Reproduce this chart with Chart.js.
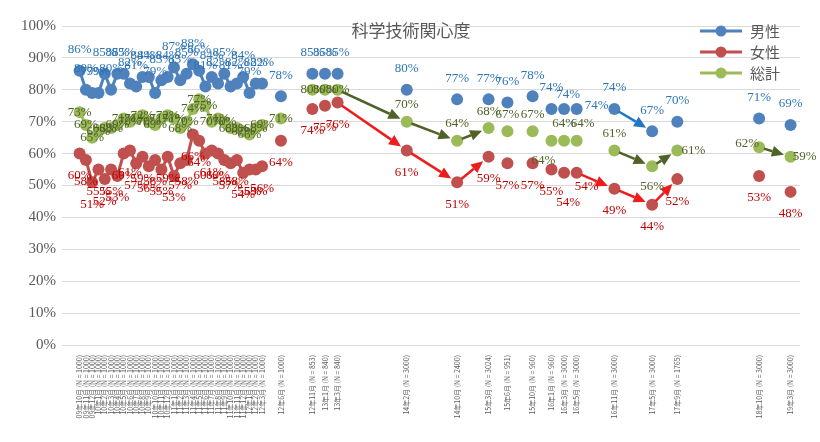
<!DOCTYPE html>
<html lang="ja">
<head>
<meta charset="utf-8">
<title>科学技術関心度</title>
<script src="https://cdn.jsdelivr.net/npm/chart.js@4.4.1/dist/chart.umd.min.js"></script>
<style>
  html, body { margin: 0; padding: 0; background: #fff; }
  #wrap { width: 820px; height: 442px; }
</style>
</head>
<body>
<div id="wrap"><canvas id="interestChart"></canvas></div>
<script>
const surveyLabels = [
    '09年10月', '09年11月', '09年12月',
    '10年1月', '10年2月', '10年3月', '10年4月', '10年5月', '10年6月',
    '10年7月', '10年8月', '10年9月', '10年10月', '10年11月', '10年12月',
    '11年1月', '11年2月', '11年3月', '11年4月', '11年5月', '11年6月',
    '11年7月', '11年8月', '11年9月', '11年10月', '11年11月', '11年12月',
    '12年1月', '12年2月', '12年3月',
    '12年6月', '12年11月', '13年1月', '13年3月', '14年2月', '14年10月',
    '15年3月', '15年6月', '15年10月', '16年1月', '16年3月', '16年5月',
    '16年11月', '17年5月', '17年9月', '18年10月', '19年3月'
];
const surveySizes = [
    1000, 1000, 1000,
    1000, 1000, 1000, 1000, 1000, 1000,
    1000, 1000, 1000, 1000, 1000, 1000,
    1000, 1000, 1000, 1000, 1000, 1000,
    1000, 1000, 1000, 1000, 1000, 1000,
    1000, 1000, 1000,
    1000, 853, 840, 840, 3000, 2400,
    3024, 951, 960, 960, 3000, 3000,
    3000, 3000, 1765, 3000, 3000
];

// Percentages per wave
const maleValues = [
    86, 80, 79, 79, 85, 80, 85, 85, 82, 81, 84, 84, 79, 83, 84,
    87, 83, 85, 88, 86, 81, 84, 82, 85, 81, 82, 84, 79, 82, 82,
    78, 85, 85, 85, 80, 77, 77, 76, 78, 74, 74, 74, 74, 67, 70, 71, 69
];
const femaleValues = [
    60, 58, 51, 55, 52, 55, 53, 60, 61, 57, 59, 56, 58, 55, 59,
    53, 57, 58, 66, 64, 60, 61, 60, 58, 57, 58, 54, 55, 55, 56,
    64, 74, 75, 76, 61, 51, 59, 57, 57, 55, 54, 54, 49, 44, 52, 53, 48
];
const totalValues = [
    73, 69, 65, 67, 68, 68, 69, 71, 70, 71, 72, 70, 69, 71, 72,
    71, 68, 70, 74, 77, 75, 70, 71, 70, 68, 68, 67, 66, 68, 69,
    71, 80, 80, 80, 70, 64, 68, 67, 67, 64, 64, 64, 61, 56, 61, 62, 59
];

const seriesNames = ['男性', '女性', '総計'];

// Trend arrows drawn between waves: [series index, from wave, to wave]
const trendArrows = [
    [2, '13年3月', '14年2月'], [2, '14年2月', '14年10月'], [2, '14年10月', '15年3月'],
    [2, '16年11月', '17年5月'], [2, '17年5月', '17年9月'], [2, '18年10月', '19年3月'],
    [1, '13年3月', '14年2月'], [1, '14年2月', '14年10月'], [1, '14年10月', '15年3月'],
    [1, '16年5月', '16年11月'], [1, '16年11月', '17年5月'], [1, '17年5月', '17年9月'],
    [0, '16年11月', '17年5月']
];

const markerColors = ['#4F81BD', '#C0504D', '#9BBB59'];
const labelColors = ['#2E75B6', '#C00000', '#4F6228'];
const arrowColors = ['#1F77C8', '#EE1C1C', '#4F6228'];
const labelOffsets = [-21, 22, -17];

// hand-moved labels, as in the original sheet: "series|wave" -> [dx, dy]
const labelShift = {
    '0|16年3月': [4, -14], '0|16年5月': [20, -3],
    '1|16年3月': [4, 30], '1|16年5月': [10, 14],
    '2|16年1月': [-8, 20], '2|16年5月': [6, -17], '2|17年5月': [0, 20],
    '2|17年9月': [16, 0], '2|18年10月': [-12, -4], '2|19年3月': [14, 0]
};

const SERIF = "'Liberation Serif', 'DejaVu Serif', serif";
const JP = "'Noto Sans CJK JP', sans-serif";

// months since Jan 2009, parsed from "YY年M月"
function waveToMonth(label) {
    const m = label.match(/(\d+)年(\d+)月/);
    return (parseInt(m[1]) - 9) * 12 + (parseInt(m[2]) - 1);
}

const waveMonths = surveyLabels.map(waveToMonth);
const tickText = {};
surveyLabels.forEach((lab, i) => {
    tickText[waveMonths[i]] = `${lab} (N = ${surveySizes[i]})`;
});
const firstArrowWave = surveyLabels.indexOf('14年2月');

function toPoints(values) {
    return values.map((v, i) => ({ x: waveMonths[i], y: v }));
}

// where a value label goes relative to its marker
function labelPosition(series, j) {
    const shift = labelShift[series + '|' + surveyLabels[j]];
    if (shift) return shift;
    // early 総計 labels sit centred on the marker
    if (series === 2 && j < firstArrowWave) return [0, 0];
    return [0, labelOffsets[series]];
}

function drawArrow(ctx, x0, y0, x1, y1, color) {
    const dx = x1 - x0, dy = y1 - y0;
    const len = Math.sqrt(dx * dx + dy * dy);
    const ux = dx / len, uy = dy / len;
    const sx = x0 + ux * 5, sy = y0 + uy * 5;
    const tx = x1 - ux * 7, ty = y1 - uy * 7;
    const head = 12, half = 5.5;
    const bx = tx - ux * head, by = ty - uy * head;

    ctx.save();
    ctx.strokeStyle = color;
    ctx.fillStyle = color;
    ctx.lineWidth = 2.5;
    ctx.beginPath();
    ctx.moveTo(sx, sy);
    ctx.lineTo(bx, by);
    ctx.stroke();
    ctx.beginPath();
    ctx.moveTo(tx, ty);
    ctx.lineTo(bx - uy * half, by + ux * half);
    ctx.lineTo(bx + uy * half, by - ux * half);
    ctx.closePath();
    ctx.fill();
    ctx.restore();
}

const overlayPlugin = {
    id: 'overlay',
    afterDatasetsDraw(chart) {
        const ctx = chart.ctx;

        // trend arrows
        trendArrows.forEach(([ds, from, to]) => {
            const meta = chart.getDatasetMeta(ds);
            const a = meta.data[surveyLabels.indexOf(from)];
            const b = meta.data[surveyLabels.indexOf(to)];
            drawArrow(ctx, a.x, a.y, b.x, b.y, arrowColors[ds]);
        });

        // value labels
        ctx.save();
        ctx.font = `13px ${SERIF}`;
        ctx.textAlign = 'center';
        ctx.textBaseline = 'middle';
        chart.data.datasets.forEach((dataset, i) => {
            const meta = chart.getDatasetMeta(i);
            ctx.fillStyle = labelColors[i];
            meta.data.forEach((pt, j) => {
                const [dx, dy] = labelPosition(i, j);
                ctx.fillText(dataset.data[j].y + '%', pt.x + dx, pt.y + dy);
            });
        });
        ctx.restore();
    },
    afterDraw(chart) {
        const ctx = chart.ctx;
        ctx.save();

        // title
        ctx.fillStyle = '#595959';
        ctx.font = `17px ${JP}`;
        ctx.textAlign = 'center';
        ctx.textBaseline = 'middle';
        ctx.fillText('科学技術関心度', 411, 31);

        // legend (line + marker)
        ctx.textAlign = 'left';
        ctx.font = `15px ${JP}`;
        seriesNames.forEach((name, i) => {
            const y = 31 + i * 21;
            ctx.strokeStyle = markerColors[i];
            ctx.lineWidth = 3;
            ctx.beginPath();
            ctx.moveTo(700, y);
            ctx.lineTo(742, y);
            ctx.stroke();
            ctx.fillStyle = markerColors[i];
            ctx.beginPath();
            ctx.arc(721, y, 5.5, 0, Math.PI * 2);
            ctx.fill();
            ctx.fillStyle = '#595959';
            ctx.fillText(name, 750, y);
        });
        ctx.restore();
    }
};

function makeDataset(i, values) {
    return {
        label: seriesNames[i],
        data: toPoints(values),
        borderColor: markerColors[i],
        backgroundColor: markerColors[i],
        borderWidth: 3,
        pointRadius: 6,
        pointBorderWidth: 0,
        pointHoverRadius: 6,
        showLine: true,
        // no line across months without a survey
        segment: {
            borderColor: c => (c.p1.parsed.x - c.p0.parsed.x > 1.5 ? 'transparent' : undefined)
        }
    };
}

const ctx = document.getElementById('interestChart').getContext('2d');
new Chart(ctx, {
    type: 'scatter',
    data: {
        datasets: [
            makeDataset(0, maleValues),
            makeDataset(1, femaleValues),
            makeDataset(2, totalValues)
        ]
    },
    options: {
        responsive: true,
        maintainAspectRatio: false,
        animation: false,
        layout: { padding: { top: 26, right: 20, left: 0, bottom: 0 } },
        plugins: {
            legend: { display: false },
            title: { display: false },
            tooltip: { enabled: false }
        },
        scales: {
            x: {
                type: 'linear',
                min: 6.2,
                max: 123.5,
                grid: { display: false },
                border: { display: false },
                afterBuildTicks: scale => {
                    scale.ticks = waveMonths.map(v => ({ value: v }));
                },
                afterFit: scale => { scale.height = 97; },
                ticks: {
                    autoSkip: false,
                    minRotation: 90,
                    maxRotation: 90,
                    padding: 2,
                    color: '#595959',
                    font: { family: JP, size: 7 },
                    callback: value => tickText[value] || ''
                }
            },
            y: {
                min: 0,
                max: 100,
                afterFit: scale => { scale.width = 62; },
                border: { display: false },
                grid: { color: '#D9D9D9', lineWidth: 1, drawTicks: false },
                ticks: {
                    stepSize: 10,
                    padding: 6,
                    color: '#595959',
                    font: { family: SERIF, size: 15 },
                    callback: v => v + '%'
                }
            }
        }
    },
    plugins: [overlayPlugin]
});
</script>
</body>
</html>
